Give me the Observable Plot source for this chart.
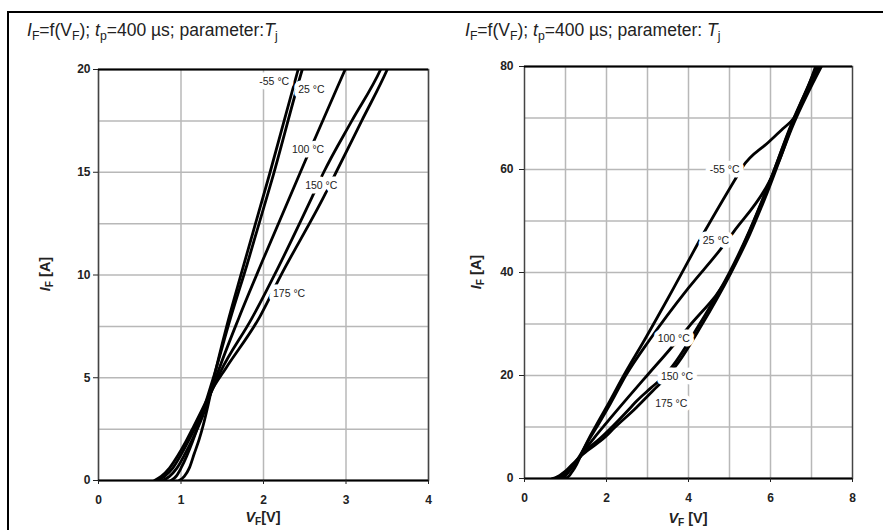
<!DOCTYPE html>
<html>
<head>
<meta charset="utf-8">
<script src="https://cdn.jsdelivr.net/npm/d3@7"></script>
<script src="https://cdn.jsdelivr.net/npm/@observablehq/plot@0.6"></script>
<style>
  html, body { margin: 0; padding: 0; background: #fff; }
  body { width: 883px; height: 530px; overflow: hidden; position: relative; font-family: "Liberation Sans", Arial, sans-serif; color: #222; }
  #frame { position: absolute; left: 7px; top: 11px; width: 2000px; height: 2000px; border-left: 2px solid #000; border-top: 2px solid #000; }
  .panel { position: absolute; top: 0; }
  .title { position: absolute; font-size: 17.5px; white-space: nowrap; line-height: 20px; }
  .xlab { position: absolute; font-size: 14.5px; font-weight: bold; white-space: nowrap; transform: translateX(-50%); line-height: 15px; }
  .ylab { position: absolute; font-size: 14.5px; font-weight: bold; white-space: nowrap; transform: translate(-50%, -50%) rotate(-90deg); }
  sub { font-size: 70%; vertical-align: -0.3em; line-height: 0; }
  svg text { paint-order: stroke; }
</style>
</head>
<body>
<div id="frame"></div>
<div class="title" style="left:27px; top:20px;"><i>I</i><sub>F</sub>=f(V<sub>F</sub>); <i>t</i><sub>p</sub>=400 µs; parameter:<i>T</i><sub>j</sub></div>
<div class="title" style="left:465px; top:20px;"><i>I</i><sub>F</sub>=f(V<sub>F</sub>); <i>t</i><sub>p</sub>=400 µs; parameter: <i>T</i><sub>j</sub></div>
<div id="left" class="panel" style="left:0px;"></div>
<div id="right" class="panel" style="left:440px;"></div>
<div class="ylab" style="left:45px; top:274px;"><i>I</i><sub>F</sub> [A]</div>
<div class="ylab" style="left:476px; top:272px;"><i>I</i><sub>F</sub> [A]</div>
<div class="xlab" style="left:263px; top:510px;"><i>V</i><sub>F</sub>[V]</div>
<div class="xlab" style="left:688px; top:511px;"><i>V</i><sub>F</sub> [V]</div>
<script>
// ---- data: forward voltage V_F [V] vs forward current I_F [A] per junction temperature ----
const temps = ["-55 °C", "25 °C", "100 °C", "150 °C", "175 °C"];

const vfM55 = [0.98, 1.04, 1.10, 1.16, 1.22, 1.27, 1.33, 1.40, 1.56, 1.74, 2.08, 2.42, 2.92, 3.50, 4.41, 5.19, 5.31, 5.95, 6.30, 6.57, 7.10];
const ifM55 = [0, 0.2, 0.6, 1.3, 2.0, 2.7, 3.7, 5.0, 7.6, 10.2, 15, 20, 26.8, 35, 48.2, 58.8, 60.4, 65.3, 67.9, 70, 80];

const vf25 = [0.88, 0.95, 1.00, 1.07, 1.14, 1.22, 1.30, 1.40, 1.60, 1.80, 2.10, 2.47, 3.05, 4.00, 4.78, 5.11, 5.96, 6.20, 6.58, 7.13];
const if25 = [0, 0.25, 0.6, 1.2, 1.9, 2.8, 3.8, 5.1, 7.9, 10.5, 14.6, 20, 26.9, 37, 44.5, 48, 57.5, 61.5, 69.8, 80];

const vf100 = [0.78, 0.86, 0.95, 1.05, 1.15, 1.25, 1.33, 1.45, 1.70, 2.00, 2.50, 2.99, 3.56, 4.01, 5.02, 5.50, 5.92, 6.56, 7.17];
const if100 = [0, 0.2, 0.6, 1.3, 2.1, 3.0, 3.9, 5.3, 7.9, 10.8, 15.5, 20, 25.2, 29.5, 39.9, 48.2, 56.3, 69.8, 80];

const vf150 = [0.72, 0.80, 0.90, 1.00, 1.10, 1.20, 1.30, 1.48, 1.86, 2.17, 2.59, 2.73, 3.07, 3.42, 3.70, 4.27, 5.00, 5.48, 5.90, 6.56, 7.20];
const if150 = [0, 0.2, 0.6, 1.25, 2.0, 2.8, 3.7, 5.3, 7.9, 10.3, 13.8, 15, 17.5, 20, 22.8, 30, 40, 48, 56, 69.5, 80];

const vf175 = [0.68, 0.76, 0.86, 0.96, 1.06, 1.15, 1.25, 1.36, 1.55, 1.96, 2.20, 2.73, 2.88, 3.19, 3.50, 3.75, 4.30, 5.02, 5.50, 5.92, 6.57, 7.24];
const if175 = [0, 0.2, 0.6, 1.2, 1.9, 2.6, 3.4, 4.3, 5.5, 8.0, 9.9, 13.8, 15, 17.5, 20, 22.5, 29.5, 39.7, 47.5, 55.5, 69, 80];

// curve label positions (V, I) for each panel
const leftLabelV = [2.13, 2.58, 2.54, 2.70, 2.31];
const leftLabelI = [19.4, 19.0, 16.1, 14.35, 9.08];
const rightLabelV = [4.88, 4.67, 3.64, 3.72, 3.58];
const rightLabelI = [60.0, 46.2, 27.1, 19.7, 14.6];

// axis ticks and grid
const leftXTicks = [0, 1, 2, 3, 4];
const leftYTicks = [0, 5, 10, 15, 20];
const leftYGrid = [2.5, 5, 7.5, 10, 12.5, 15, 17.5];
const rightXTicks = [0, 2, 4, 6, 8];
const rightXGrid = [1, 2, 3, 4, 5, 6, 7];
const rightYTicks = [0, 20, 40, 60, 80];
const rightYGrid = [10, 20, 30, 40, 50, 60, 70];

// ---- build tables ----
const series = [[vfM55, ifM55], [vf25, if25], [vf100, if100], [vf150, if150], [vf175, if175]];
const curves = [];
series.forEach(([vs, is], k) => vs.forEach((v, j) => curves.push({T: temps[k], V: v, I: is[j]})));
const leftLabels = temps.map((t, k) => ({T: t, V: leftLabelV[k], I: leftLabelI[k]}));
const rightLabels = temps.map((t, k) => ({T: t, V: rightLabelV[k], I: rightLabelI[k]}));

const font = "'Liberation Sans', Arial, sans-serif";
const gridColor = "#b8b8b8";

function panel({width, ml, mr, mt, mb, xDomain, yDomain, xTicks, yTicks, xGrid, yGrid, labels, tickPadY}) {
  return Plot.plot({
    width, height: 530,
    marginLeft: ml, marginRight: mr, marginTop: mt, marginBottom: mb,
    style: {background: "none", overflow: "visible", fontFamily: font, color: "#222"},
    x: {domain: xDomain, axis: null},
    y: {domain: yDomain, axis: null},
    marks: [
      Plot.gridX(xGrid, {stroke: gridColor, strokeOpacity: 1, strokeWidth: 1.5}),
      Plot.gridY(yGrid, {stroke: gridColor, strokeOpacity: 1, strokeWidth: 1.5}),
      Plot.frame({stroke: "#444", strokeWidth: 1.5}),
      Plot.ruleY([yDomain[0], yDomain[1]], {stroke: "#000", strokeWidth: 2}),
      Plot.line(curves, {x: "V", y: "I", z: "T", stroke: "#000", strokeWidth: 2.8, curve: "monotone-x", clip: true, strokeLinejoin: "round"}),
      Plot.text(labels, {x: "V", y: "I", text: "T", fontSize: 10.5, fill: "#222", stroke: "white", strokeWidth: 9, strokeLinejoin: "round", paintOrder: "stroke"}),
      Plot.axisX({ticks: xTicks, tickSize: 4, tickPadding: 11, fontSize: 12, fontWeight: "bold", label: null, tickFormat: d => String(d)}),
      Plot.axisY({ticks: yTicks, tickSize: 5, tickPadding: tickPadY, fontSize: 12, fontWeight: "bold", label: null, tickFormat: d => String(d)})
    ]
  });
}

document.getElementById("left").appendChild(panel({
  width: 440, ml: 98, mr: 12, mt: 69, mb: 50,
  xDomain: [0, 4], yDomain: [0, 20],
  xTicks: leftXTicks, yTicks: leftYTicks, xGrid: leftXTicks, yGrid: leftYGrid,
  labels: leftLabels, tickPadY: 3
}));

document.getElementById("right").appendChild(panel({
  width: 443, ml: 84, mr: 31, mt: 66, mb: 52,
  xDomain: [0, 8], yDomain: [0, 80],
  xTicks: rightXTicks, yTicks: rightYTicks, xGrid: rightXGrid, yGrid: rightYGrid,
  labels: rightLabels, tickPadY: 6
}));
</script>
</body>
</html>
